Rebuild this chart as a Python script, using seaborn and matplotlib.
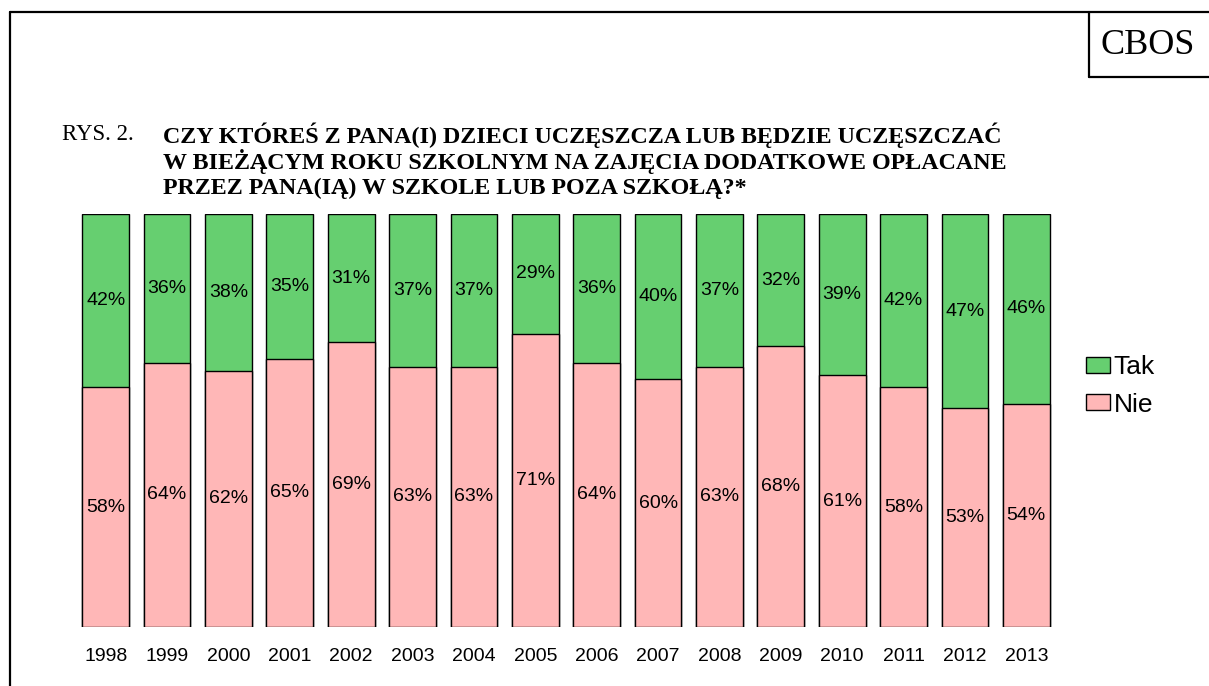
import matplotlib
matplotlib.use("Agg")
import matplotlib.pyplot as plt
import seaborn as sns
import pandas as pd
from matplotlib.patches import Patch
from matplotlib.lines import Line2D

years = ["1998", "1999", "2000", "2001", "2002", "2003", "2004", "2005",
         "2006", "2007", "2008", "2009", "2010", "2011", "2012", "2013"]
tak = [42, 36, 38, 35, 31, 37, 37, 29, 36, 40, 37, 32, 39, 42, 47, 46]
nie = [58, 64, 62, 65, 69, 63, 63, 71, 64, 60, 63, 68, 61, 58, 53, 54]

green = "#66CF70"
pink = "#FFB7B7"

sns.set_theme(style="white")
plt.rcParams['font.family'] = ['Liberation Sans', 'DejaVu Sans']
plt.rcParams['text.color'] = 'black'
plt.rcParams['xtick.color'] = 'black'
plt.rcParams['axes.labelcolor'] = 'black'

df = pd.DataFrame({"year": years, "tak": tak, "nie": nie})
df["total"] = df["tak"] + df["nie"]

W, H = 1209, 686
fig = plt.figure(figsize=(W / 100, H / 100), dpi=100)
ax_left = 75 / W
ax_right = 1057 / W
ax_bottom = (H - 627) / H
ax_top = (H - 214) / H
ax = fig.add_axes([ax_left, ax_bottom, ax_right - ax_left, ax_top - ax_bottom])

sns.barplot(data=df, x="year", y="total", order=years, color=green,
            edgecolor="black", linewidth=1, width=0.76, saturation=1, ax=ax)
sns.barplot(data=df, x="year", y="nie", order=years, color=pink,
            edgecolor="black", linewidth=1, width=0.76, saturation=1, ax=ax)

for i, (t, n) in enumerate(zip(tak, nie)):
    ax.text(i, n + t / 2, f"{t}%", ha="center", va="center", fontsize=14, color="black")
    ax.text(i, n / 2, f"{n}%", ha="center", va="center", fontsize=14, color="black")

ax.set_xlim(-0.5, len(years) - 0.5)
ax.set_ylim(0, 100)
ax.set_yticks([])
ax.set_xlabel("")
ax.set_ylabel("")
ax.tick_params(axis="x", length=0, pad=15, labelsize=14, labelcolor="black")
for s in ax.spines.values():
    s.set_visible(False)

handles = [Patch(facecolor=green, edgecolor="black", label="Tak"),
           Patch(facecolor=pink, edgecolor="black", label="Nie")]
fig.legend(handles=handles, loc="center left",
           bbox_to_anchor=(1062 / W, (H - 386) / H), frameon=False,
           fontsize=19, handlelength=0.9, handleheight=0.55, handletextpad=0.15,
           labelspacing=0.5)

def fx(x):
    return x / W

def fy(y):
    return (H - y) / H

lw = 1.6
fig.add_artist(Line2D([fx(10), 1], [fy(12), fy(12)], color="black", lw=lw, transform=fig.transFigure))
fig.add_artist(Line2D([fx(10), fx(10)], [fy(12), 0], color="black", lw=lw, transform=fig.transFigure))
fig.add_artist(Line2D([fx(1089), fx(1089)], [fy(12), fy(77)], color="black", lw=lw, transform=fig.transFigure))
fig.add_artist(Line2D([fx(1089), 1], [fy(77), fy(77)], color="black", lw=lw, transform=fig.transFigure))

serif = ['Liberation Serif', 'DejaVu Serif']
fig.text(fx(1148), fy(45), "CBOS", ha="center", va="center", fontsize=26, family=serif)
fig.text(fx(62), fy(135), "RYS. 2.", ha="left", va="center", fontsize=16.5, family=serif)
title_lines = ["CZY KTÓREŚ Z PANA(I) DZIECI UCZĘSZCZA LUB BĘDZIE UCZĘSZCZAĆ",
               "W BIEŻĄCYM ROKU SZKOLNYM NA ZAJĘCIA DODATKOWE OPŁACANE",
               "PRZEZ PANA(IĄ) W SZKOLE LUB POZA SZKOŁĄ?*"]
for k, line in enumerate(title_lines):
    fig.text(fx(163), fy(135 + 26.5 * k), line, ha="left", va="center",
             fontsize=17.3, fontweight="bold", family=serif)

fig.savefig("out.png", dpi=100)
